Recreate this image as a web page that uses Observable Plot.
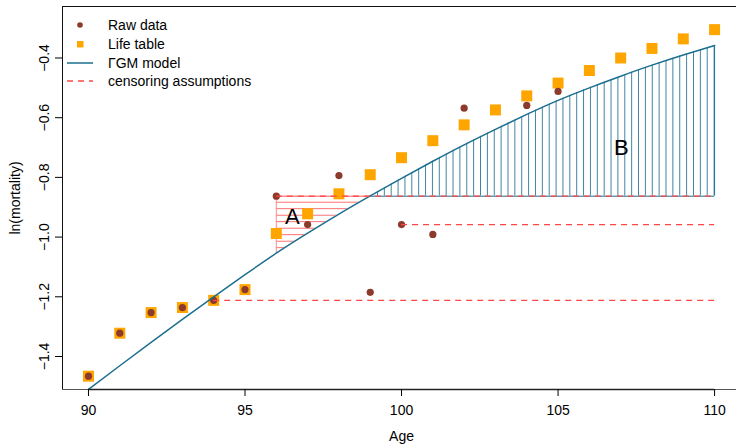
<!DOCTYPE html>
<html><head><meta charset="utf-8">
<script src="https://cdn.jsdelivr.net/npm/d3@7"></script>
<script src="https://cdn.jsdelivr.net/npm/@observablehq/plot@0.6"></script>
<style>
body{margin:0;background:#fff;font-family:"Liberation Sans",Arial,Helvetica,sans-serif;color:#000;}
#wrap{position:relative;width:736px;height:446px;overflow:hidden;}
#legend{position:absolute;left:62px;top:0;}
.lg{position:absolute;left:0;font-size:14px;height:18px;line-height:18px;white-space:nowrap;}
.lg svg{position:absolute;left:0;top:0;overflow:visible;}
.lg span{position:absolute;left:46px;top:0;}
</style></head><body><div id="wrap"></div>
<script>
// ---- data ----
const ages = [90,91,92,93,94,95,96,97,98,99,100,101,102,103,104,105,106,107,108,109,110];
const rawAges = [90,91,92,93,94,95,96,97,98,99,100,101,102,104,105];
const rawValues = [-1.466,-1.322,-1.253,-1.236,-1.212,-1.176,-0.863,-0.958,-0.794,-1.185,-0.958,-0.991,-0.568,-0.559,-0.512];
const lifeTableValues = [-1.466,-1.322,-1.253,-1.236,-1.212,-1.176,-0.988,-0.922,-0.855,-0.791,-0.734,-0.677,-0.624,-0.574,-0.527,-0.484,-0.442,-0.400,-0.368,-0.336,-0.305];
const modelValues = [-1.510,-1.431,-1.353,-1.276,-1.200,-1.126,-1.054,-0.987,-0.923,-0.862,-0.803,-0.746,-0.691,-0.639,-0.589,-0.542,-0.500,-0.461,-0.424,-0.390,-0.358];
const censorFrom = [94, 96, 100];
const censorLevel = [-1.212, -0.863, -0.958];
const censorTo = 110;
const regionLabels = ["A", "B"];
const regionFrom = [96, 99];
const regionTo = [99, 110];
const regionLevel = -0.863;
const labelAge = [96.51, 107.02];
const labelValue = [-0.934, -0.7015];
const xTicks = [90, 95, 100, 105, 110];
const yTicks = [-1.4, -1.2, -1.0, -0.8, -0.6, -0.4];
const xDomain = [89.17, 110.70];
const yDomain = [-1.5106, -0.2275];
const legendLabels = ["Raw data", "Life table", "\u0393GM model", "censoring assumptions"];

// ---- styles ----
const BROWN = "#8b3a2b", ORANGE = "#ffa500", BLUE = "#1b6f8f", RED = "#ff4545";
const FONT = '"Liberation Sans",Arial,Helvetica,sans-serif';

const raw = rawAges.map((a, i) => ({age: a, value: rawValues[i]}));
const life = ages.map((a, i) => ({age: a, value: lifeTableValues[i]}));
const model = ages.map((a, i) => ({age: a, value: modelValues[i]}));
const censor = censorFrom.map((a, i) => ({from: a, to: censorTo, value: censorLevel[i]}));
const fmt = d3.format(".1f");

const plot = Plot.plot({
  width: 736, height: 446,
  marginLeft: 62, marginRight: 0, marginTop: 6, marginBottom: 57,
  x: {domain: xDomain},
  y: {domain: yDomain},
  style: {fontFamily: FONT, fontSize: "14px", color: "#000", background: "#fff", overflow: "visible"},
  marks: [
    Plot.areaY(model, {x: "age", y1: regionLevel, y2: "value", curve: "natural", fill: "url(#hatchB)"}),
    Plot.areaY(model, {x: "age", y1: regionLevel, y2: "value", curve: "natural", fill: "url(#hatchA)"}),
    // region borders
    Plot.ruleY([regionLevel], {x1: regionFrom[1], x2: regionTo[1], stroke: BLUE, strokeWidth: 1}),
    Plot.ruleX([regionTo[1]], {y1: regionLevel, y2: modelValues[ages.indexOf(regionTo[1])], stroke: BLUE, strokeWidth: 1}),
    Plot.ruleX([regionFrom[0]], {y1: modelValues[ages.indexOf(regionFrom[0])], y2: regionLevel, stroke: "#ff8c8c", strokeWidth: 1}),
    Plot.ruleY([regionLevel], {x1: regionFrom[0], x2: regionTo[0], stroke: "#ff6060", strokeWidth: 1}),
    // points
    Plot.dot(life, {x: "age", y: "value", symbol: "square", r: 6.2, fill: ORANGE, stroke: "none"}),
    Plot.dot(raw, {x: "age", y: "value", r: 3.6, fill: BROWN, stroke: "none"}),
    // model
    Plot.line(model, {x: "age", y: "value", curve: "natural", stroke: BLUE, strokeWidth: 1.5}),
    // censoring
    Plot.ruleY(censor, {y: "value", x1: "from", x2: "to", stroke: RED, strokeWidth: 1.3, strokeDasharray: "6,5"}),
    // labels
    Plot.text(regionLabels, {x: (d, i) => labelAge[i], y: (d, i) => labelValue[i], text: d => d, fontSize: 22}),
    // frame (top, left, bottom)
    Plot.ruleY([yDomain[1]], {stroke: "#111", strokeWidth: 1}),
    Plot.ruleX([xDomain[0]], {stroke: "#111", strokeWidth: 1}),
    Plot.ruleY([yDomain[0]], {stroke: "#555", strokeWidth: 1.2}),
    Plot.ruleY([yDomain[0]], {x1: xTicks[0], x2: xTicks[xTicks.length - 1], stroke: "#222", strokeWidth: 1.6}),
    // axes
    Plot.axisX({ticks: xTicks, tickSize: 7, tickPadding: 9, label: null, fontSize: 14}),
    Plot.axisY({ticks: yTicks, tickSize: 7, tickFormat: () => "", label: null}),
    Plot.text(yTicks, {y: d => d, text: d => fmt(d), frameAnchor: "left", dx: -14, rotate: -90, lineAnchor: "bottom", textAnchor: "middle", fontSize: 14}),
    Plot.text(["ln(mortality)"], {frameAnchor: "left", dx: -43, rotate: -90, lineAnchor: "bottom", textAnchor: "middle", fontSize: 14}),
    Plot.text(["Age"], {x: xTicks[2], frameAnchor: "bottom", dy: 51, lineAnchor: "bottom", textAnchor: "middle", fontSize: 14})
  ]
});

const svg = plot.tagName.toLowerCase() === "svg" ? plot : plot.querySelector("svg");

// patterns & clips computed from the scales
const sx = plot.scale("x"), sy = plot.scale("y");
const X = v => sx.apply(v), Y = v => sy.apply(v);
const baseY = Y(regionLevel);
const topY = Y(yDomain[1]), bottomY = Y(yDomain[0]);
const wB = 6.87, hA = 6.5;
const defs = document.createElementNS("http://www.w3.org/2000/svg", "defs");
defs.innerHTML = `
<pattern id="hatchB" patternUnits="userSpaceOnUse" x="${X(regionTo[1]) - wB/2}" y="0" width="${wB}" height="40">
  <line x1="${wB/2}" y1="0" x2="${wB/2}" y2="40" stroke="${BLUE}" stroke-width="1" stroke-opacity="0.85"/>
</pattern>
<pattern id="hatchA" patternUnits="userSpaceOnUse" x="0" y="${baseY - hA/2}" width="40" height="${hA}">
  <line x1="0" y1="${hA/2}" x2="40" y2="${hA/2}" stroke="#ff4a4a" stroke-opacity="0.85" stroke-width="1"/>
</pattern>
<clipPath id="clipB"><rect x="${X(regionFrom[1]) - 2}" y="${topY}" width="${X(regionTo[1]) - X(regionFrom[1]) + 2}" height="${baseY - topY}"/></clipPath>
<clipPath id="clipA"><rect x="${X(regionFrom[0])}" y="${baseY}" width="${X(regionTo[0]) - X(regionFrom[0]) + 2}" height="${bottomY - baseY}"/></clipPath>`;
svg.insertBefore(defs, svg.firstChild);
function clipByFill(fillId, clipId) {
  svg.querySelectorAll("*").forEach(el => {
    const f = el.getAttribute("fill") || "";
    if (f.replace(/\s|"|'/g, "") === `url(#${fillId})`) el.setAttribute("clip-path", `url(#${clipId})`);
  });
}
clipByFill("hatchB", "clipB");
clipByFill("hatchA", "clipA");

const wrap = document.getElementById("wrap");
wrap.appendChild(plot);

// legend
const legend = document.createElement("div");
legend.id = "legend";
const rowCenters = [25, 44, 62.8, 81.4];
const swatches = [
  `<svg width="46" height="18"><circle cx="18" cy="9" r="2.8" fill="${BROWN}"/></svg>`,
  `<svg width="46" height="18"><rect x="15" y="6" width="6.5" height="6.5" fill="${ORANGE}"/></svg>`,
  `<svg width="46" height="18"><line x1="5" y1="9" x2="31" y2="9" stroke="${BLUE}" stroke-width="1.5"/></svg>`,
  `<svg width="46" height="18"><line x1="5" y1="9" x2="31" y2="9" stroke="${RED}" stroke-width="1.3" stroke-dasharray="6,5"/></svg>`
];
legendLabels.forEach((lab, i) => {
  const row = document.createElement("div");
  row.className = "lg";
  row.style.top = (rowCenters[i] - 9) + "px";
  row.innerHTML = swatches[i] + `<span></span>`;
  row.querySelector("span").textContent = lab;
  legend.appendChild(row);
});
wrap.appendChild(legend);
</script></body></html>
